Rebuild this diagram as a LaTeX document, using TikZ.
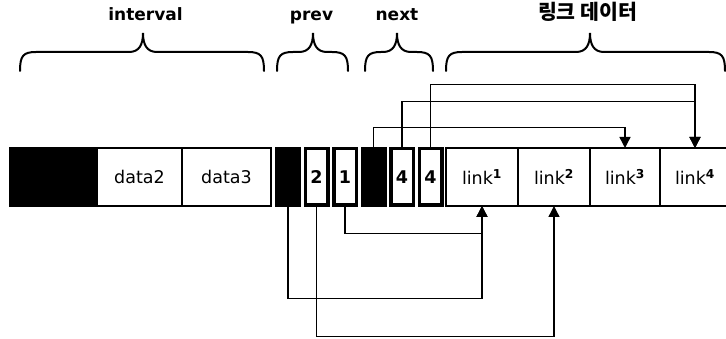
\documentclass[tikz,border=0pt]{standalone}
\usepackage{fontspec}
\setmainfont{DejaVu Sans}
\newfontfamily\kofont{Noto Sans CJK KR}
\usepackage{tikz}
\usetikzlibrary{arrows.meta, positioning}
% curly brace over a group of fields: left x, right x, tip x
\newcommand{\topbrace}[3]{%
  \draw[brace] (#1,71) .. controls (#1,56) and (#1+3,52) .. (#1+16,52)
    -- (#3-14,52) .. controls (#3-4,52) and (#3,45) .. (#3,33)
    .. controls (#3,45) and (#3+4,52) .. (#3+14,52)
    -- (#2-16,52) .. controls (#2-3,52) and (#2,56) .. (#2,71);}
\newcommand{\lnk}[1]{link\textsuperscript{\bfseries #1}}

\begin{document}
\begin{tikzpicture}[x=1pt, y=-1pt,
      every node/.style={font=\fontsize{17.5}{20}\selectfont, inner sep=0pt, outer sep=0pt},
      cell/.style={draw, line width=2pt, minimum height=58pt},
      slot/.style={draw, line width=3.5pt, minimum width=22.5pt, minimum height=56.5pt,
                   font=\fontsize{17.5}{20}\selectfont\bfseries},
      head/.style={anchor=base, font=\fontsize{17}{20}\selectfont\bfseries},
      brace/.style={line width=2pt, line cap=round},
      conn/.style={line width=1.4pt, -{Triangle[length=11pt, width=11pt]}}]
    \useasboundingbox (0,0) rectangle (726,339);
    % interval
    \node[cell, fill=black, minimum width=87pt] (pad) at (53.5,177) {};
    \node[cell, minimum width=85pt, right=0pt of pad] (data2) {data2};
    \node[cell, minimum width=89pt, right=0pt of data2] (data3) {data3};
    % prev / next
    \node[slot, fill=black, right=5.75pt of data3] (pbar) {};
    \node[slot, right=6pt of pbar] (prevb) {2};
    \node[slot, right=6pt of prevb] (preva) {1};
    \node[slot, fill=black, right=6pt of preva] (nbar) {};
    \node[slot, right=6pt of nbar] (nexta) {4};
    \node[slot, right=6pt of nexta] (nextb) {4};
    % link data
    \node[cell, line width=2.5pt, minimum width=72pt, right=4.25pt of nextb] (link1) {\lnk{1}};
    \node[cell, line width=2.5pt, minimum width=72pt, right=0pt of link1] (link2) {\lnk{2}};
    \node[cell, line width=2.5pt, minimum width=70pt, right=0pt of link2] (link3) {\lnk{3}};
    \node[cell, line width=2.5pt, minimum width=70pt, right=0pt of link3] (link4) {\lnk{4}};
    % braces
    \topbrace{20}{264}{143}
    \topbrace{277}{348}{313}
    \topbrace{365}{433}{397}
    \topbrace{446}{725}{590}
    \node[head] (intervalhd) at (145.5,20.5) {interval};
    \node[head] (prevhd) at (311.5,20.5) {prev};
    \node[head] (nexthd) at (397,20.5) {next};
    \node[head, font=\fontsize{20.5}{22}\selectfont\bfseries] (linkhd) at (587.5,20) {\kofont 링크 데이터};
    % pointers
    \draw[conn] (nbar.north) -- ++(0,-21) -| (link3.north);
    \draw[conn] (nexta.north) -- ++(0,-47) -| (link4.north);
    \draw[conn] (nextb.north) -- ++(0,-64) -| (link4.north);
    \draw[conn] (preva.south) -- ++(0,28) -| (link1.south);
    \draw[conn] (pbar.south) -- ++(0,93) -| (link1.south);
    \draw[conn] (prevb.south) -- ++(0,131) -| (link2.south);
  \end{tikzpicture}
\end{document}
